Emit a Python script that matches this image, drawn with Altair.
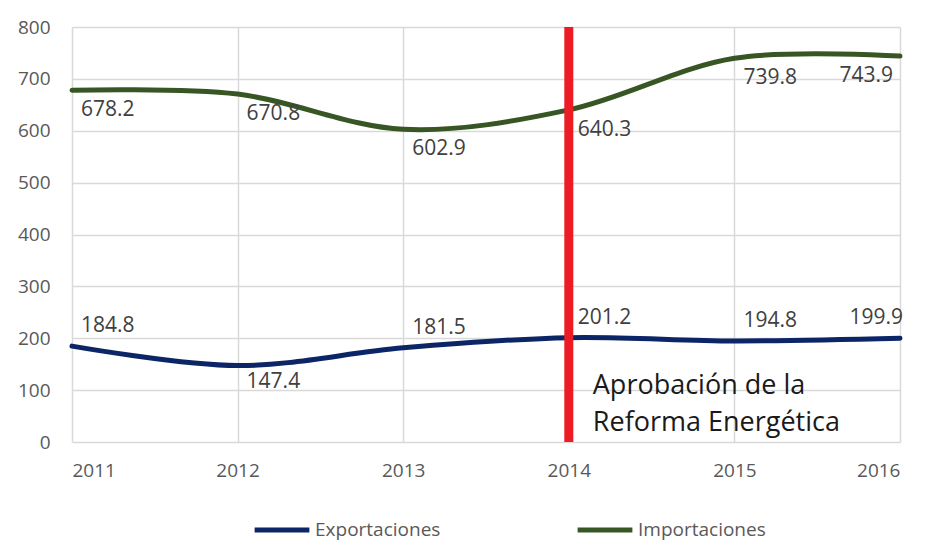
import altair as alt
import pandas as pd

years = [2011, 2012, 2013, 2014, 2015, 2016]
exportaciones = [184.8, 147.4, 181.5, 201.2, 194.8, 199.9]
importaciones = [678.2, 670.8, 602.9, 640.3, 739.8, 743.9]
series_names = ["Exportaciones", "Importaciones"]
series_colors = ["#0B2566", "#375623"]
y_ticks = [0, 100, 200, 300, 400, 500, 600, 700, 800]
reform_year = 2014
annotation = ["Aprobación de la", "Reforma Energética"]

rows = []
for y, v in zip(years, exportaciones):
    rows.append({"year": y, "value": v, "series": series_names[0]})
for y, v in zip(years, importaciones):
    rows.append({"year": y, "value": v, "series": series_names[1]})
df = pd.DataFrame(rows)

FONT = "Open Sans"

x = alt.X("year:Q", scale=alt.Scale(domain=[years[0], years[-1]], nice=False, zero=False),
          axis=alt.Axis(values=years, format="d", title=None, grid=True, domain=False, ticks=False,
                        labelPadding=19, labelFontSize=19, labelColor="#595959", labelFont=FONT,
                        gridColor="#D9D9D9", gridWidth=1.5))
y = alt.Y("value:Q", scale=alt.Scale(domain=[0, 800], nice=False),
          axis=alt.Axis(values=y_ticks, title=None, grid=True, domain=False, ticks=False,
                        labelPadding=22, labelFontSize=19, labelColor="#595959", labelFont=FONT,
                        gridColor="#D9D9D9", gridWidth=1.5))

base = alt.Chart(df)

lines = base.mark_line(interpolate="catmull-rom", strokeWidth=5, strokeCap="round").encode(
    x=x, y=y,
    color=alt.Color("series:N", scale=alt.Scale(domain=series_names, range=series_colors),
                    legend=alt.Legend(title=None, orient="none", direction="horizontal",
                                      legendX=180, legendY=473, symbolType="stroke",
                                      symbolSize=3000, symbolStrokeWidth=5, labelFontSize=19,
                                      labelColor="#595959", labelFont=FONT, columnPadding=126,
                                      labelOffset=3)),
)

def labels(filter_expr, dx, dy, align):
    return base.transform_filter(filter_expr).mark_text(
        align=align, baseline="middle", dx=dx, dy=dy, fontSize=21, font=FONT, color="#404040"
    ).encode(x="year:Q", y="value:Q", text=alt.Text("value:Q", format=".1f"))

exp_above = labels("datum.series == 'Exportaciones' && datum.year != 2012 && datum.year != 2016", 9, -20, "left")
exp_below = labels("datum.series == 'Exportaciones' && datum.year == 2012", 9, 16, "left")
exp_last = labels("datum.series == 'Exportaciones' && datum.year == 2016", 3, -20, "right")
imp_below = labels("datum.series == 'Importaciones' && datum.year != 2016", 9, 20, "left")
imp_last = labels("datum.series == 'Importaciones' && datum.year == 2016", -7, 20, "right")

rule = alt.Chart(pd.DataFrame({"year": [reform_year]})).mark_rule(color="#ED1C24", strokeWidth=9).encode(
    x="year:Q", y=alt.datum(0), y2=alt.datum(800)
)

note = alt.Chart(pd.DataFrame({"year": [reform_year], "value": [0], "t": [annotation]})).mark_text(
    align="left", baseline="bottom", dx=24, dy=-42, fontSize=27, font=FONT, color="#1a1a1a", lineHeight=37
).encode(x="year:Q", y="value:Q", text="t")

chart = alt.layer(lines, exp_above, exp_below, exp_last, imp_below, imp_last, rule, note).properties(
    width=828, height=415,
    autosize=alt.AutoSizeParams(type="none"),
    padding={"left": 64, "top": 19, "right": 17, "bottom": 100},
).configure_view(stroke=None)

chart.save("out.html", embed_options={"renderer": "svg", "actions": False})
